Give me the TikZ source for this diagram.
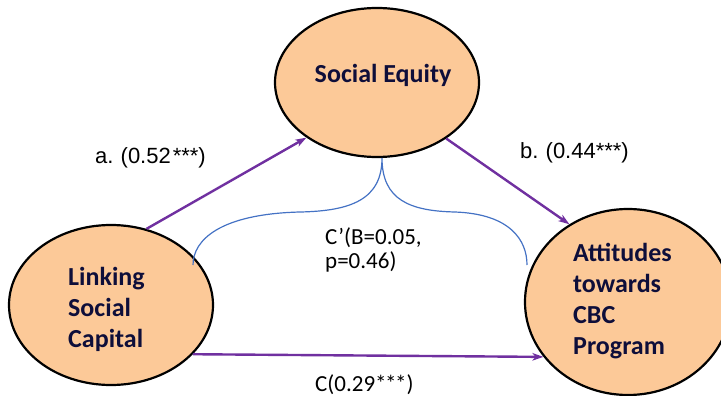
\documentclass[tikz,border=0pt]{standalone}
\usepackage{fontspec}
\setmainfont{Carlito}
\newfontfamily\arialfont{Liberation Sans}
\usetikzlibrary{shapes.geometric,arrows.meta}
\definecolor{peach}{RGB}{252,201,152}
\definecolor{navy}{RGB}{14,14,58}
\definecolor{arrowpurple}{RGB}{112,48,160}
\definecolor{braceblue}{RGB}{68,114,196}
\begin{document}
\begin{tikzpicture}[x=1pt,y=-1pt,
  oval/.style={ellipse, draw=black, line width=2.2pt, fill=peach, inner sep=0pt},
  nodetext/.style={font=\bfseries\fontsize{26}{31}\selectfont, text=navy, inner sep=0pt, align=left},
  pathlbl/.style={font=\fontsize{23}{24.5}\selectfont, text=black, inner sep=0pt, align=left},
  coeflbl/.style={font=\arialfont\fontsize{22}{26}\selectfont, text=black, inner sep=0pt},
  patharrow/.style={draw=arrowpurple, line width=2.4pt, -{Stealth[length=11pt,width=7.5pt,inset=3pt]}},
  bracecurve/.style={draw=braceblue, line width=1.2pt}]
\path[use as bounding box, clip] (0,0) rectangle (721,396);
\node[oval, minimum width=204pt, minimum height=149pt] (se) at (377,82.5) {};
\node[oval, minimum width=204pt, minimum height=160pt] (lsc) at (111,305) {};
\node[oval, minimum width=206pt, minimum height=186pt] (att) at (628,302) {};
\node[nodetext] (set) at (383,75) {Social Equity};
\node[nodetext, anchor=west] (lsct) at (68,309) {Linking\\Social\\Capital};
\node[nodetext, anchor=west] (attt) at (573,301) {Attitudes\\towards\\CBC\\Program};
\draw[patharrow] (lsc.65.6) -- (se.218.8);
\draw[patharrow] (se.-39.2) -- (att.127);
\draw[patharrow] (lsc.-31.3) -- (att.213.5);
\coordinate (cusp) at (382,158);
\coordinate (bl) at (193,265);
\coordinate (br) at (527,265);
\draw[bracecurve] (bl) .. controls (193,240) and (220,214) .. (300,212)
  .. controls (350,211) and (382,200) .. (cusp)
  .. controls (382,200) and (410,211) .. (455,212)
  .. controls (510,214) and (527,240) .. (br);
\node[coeflbl, anchor=base west] (la) at (95,164) {a.\hspace{-1pt} (0.52\hspace{2pt}***)};
\node[coeflbl, anchor=base west] (lb) at (520,158) {b.\hspace{-1pt} (0.44***)};
\node[pathlbl, anchor=west] (lcp) at (325,250) {C’(B=0.05,\\p=0.46)};
\node[pathlbl, anchor=base west] (lc) at (315,391) {C(0.29*\kern-1.5pt*\kern-1.5pt*)};
\end{tikzpicture}
\end{document}
